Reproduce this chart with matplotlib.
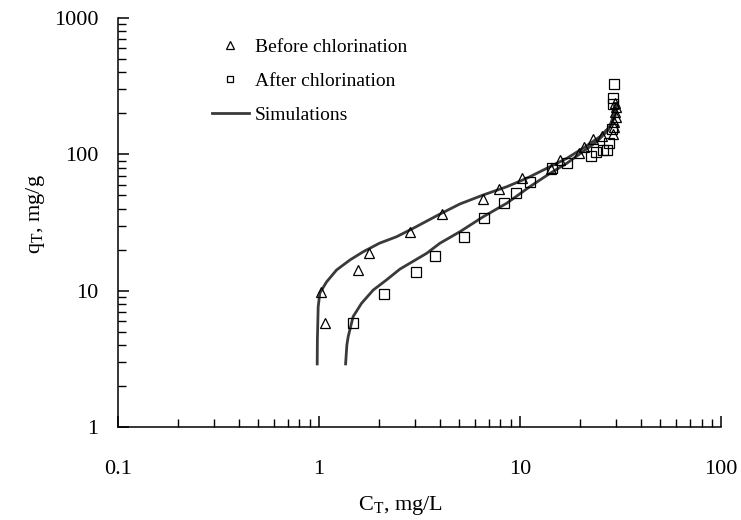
import numpy as np
import matplotlib
matplotlib.use("Agg")
import matplotlib.pyplot as plt
from matplotlib.ticker import LogLocator, FixedLocator, NullFormatter

plt.rcParams['font.family'] = 'Liberation Serif'
plt.rcParams['mathtext.fontset'] = 'custom'
plt.rcParams['mathtext.rm'] = 'Liberation Serif'
plt.rcParams['mathtext.it'] = 'Liberation Serif:italic'

# measured data, before chlorination (triangles)
before_c = [1.02, 1.07, 1.56, 1.78, 2.84, 4.08, 6.57, 7.89, 10.2, 14.3, 15.9,
            19.7, 20.9, 23.2, 25.7, 28.9, 29.5, 29.9, 29.6, 30.1, 29.3, 29.7]
before_q = [9.7, 5.8, 14.2, 18.8, 26.8, 36.5, 46.8, 55.7, 67.4, 77.8, 91.0,
            103, 113, 130, 136, 141, 174, 189, 206, 224, 160, 237]

# measured data, after chlorination (squares)
after_c = [1.47, 2.12, 3.03, 3.79, 5.28, 6.64, 8.32, 9.55, 11.2, 14.5, 17.1,
           22.5, 23.9, 26.0, 27.0, 27.7, 28.6, 28.9, 28.9, 29.4]
after_q = [5.8, 9.4, 13.8, 18.0, 24.9, 34.0, 44.2, 51.8, 63.0, 79.1, 86.0,
           97.8, 105, 108, 108, 121, 155, 234, 261, 327]

# simulation curves
sim1_c = [0.981, 0.983, 0.992, 1.011, 1.092, 1.225, 1.427, 1.661, 2.0, 2.436,
          2.945, 4.0, 5.03, 6.57, 8.59, 10.8, 13.6, 17.1, 20.6, 25.0, 28.0,
          29.7, 30.3]
sim1_q = [2.9, 4.35, 7.6, 9.6, 11.6, 14.2, 16.8, 19.3, 22.3, 24.9,
          28.7, 36.5, 43.3, 50.4, 57.9, 66.8, 79.1, 93.6, 111, 135, 160,
          189, 230]
sim2_c = [1.358, 1.378, 1.399, 1.48, 1.63, 1.862, 2.17, 2.53, 3.435, 4.0, 5.03,
          6.57, 8.59, 11.2, 14.1, 17.1, 20.6, 24.1, 27.5, 29.1, 29.6]
sim2_q = [2.9, 4.0, 4.6, 6.45, 8.08, 10.1, 12.0, 14.4, 18.8, 22.3, 27.1,
          34.9, 43.8, 58.0, 72.6, 86.1, 105, 124, 151, 189, 237]

fig = plt.figure(figsize=(7.41, 5.20), dpi=100)
ax = fig.add_axes([0.159, 0.179, 0.814, 0.786])

line_col = '#3a3a3a'
ax.plot(sim1_c, sim1_q, color=line_col, lw=2.0, label='_nolegend_', zorder=2)
ax.plot(sim2_c, sim2_q, color=line_col, lw=2.0, label='Simulations', zorder=2)
ax.plot(before_c, before_q, ls='none', marker='^', ms=7, mfc='none', mec='black',
        mew=0.9, label='Before chlorination', zorder=3)
ax.plot(after_c, after_q, ls='none', marker='s', ms=6.5, mfc='none', mec='black',
        mew=0.9, label='After chlorination', zorder=3)

ax.set_xscale('log')
ax.set_yscale('log')
ax.set_xlim(0.1, 100)
ax.set_ylim(1, 1000)

for s in ['top', 'right']:
    ax.spines[s].set_visible(False)
for s in ['left', 'bottom']:
    ax.spines[s].set_linewidth(1.1)

ax.xaxis.set_major_locator(FixedLocator([0.1, 1, 10, 100]))
ax.yaxis.set_major_locator(FixedLocator([1, 10, 100, 1000]))
ax.set_xticklabels(['0.1', '1', '10', '100'])
ax.set_yticklabels(['1', '10', '100', '1000'])
ax.xaxis.set_minor_locator(LogLocator(base=10, subs=np.arange(2, 10), numticks=20))
ax.yaxis.set_minor_locator(LogLocator(base=10, subs=np.arange(2, 10), numticks=20))
ax.xaxis.set_minor_formatter(NullFormatter())
ax.yaxis.set_minor_formatter(NullFormatter())

ax.tick_params(which='major', direction='in', length=8, width=1.1, labelsize=16)
ax.tick_params(which='minor', direction='in', length=5.5, width=1.0)
ax.tick_params(axis='x', which='major', pad=24)
ax.tick_params(axis='y', which='major', pad=14)

ax.set_xlabel(r'C$_\mathrm{T}$, mg/L', fontsize=16)
ax.set_ylabel(r'q$_\mathrm{T}$, mg/g', fontsize=16)
ax.xaxis.set_label_coords(0.469, -0.163)
ax.yaxis.set_label_coords(-0.118, 0.52)

h, l = ax.get_legend_handles_labels()
order = [1, 2, 0]
ax.legend([h[i] for i in order], [l[i] for i in order], loc='upper left',
          bbox_to_anchor=(0.14, 0.975), frameon=False, fontsize=14,
          handlelength=1.9, handletextpad=0.3, labelspacing=0.85, borderpad=0,
          markerscale=0.75)

fig.savefig('out.png', dpi=100)
